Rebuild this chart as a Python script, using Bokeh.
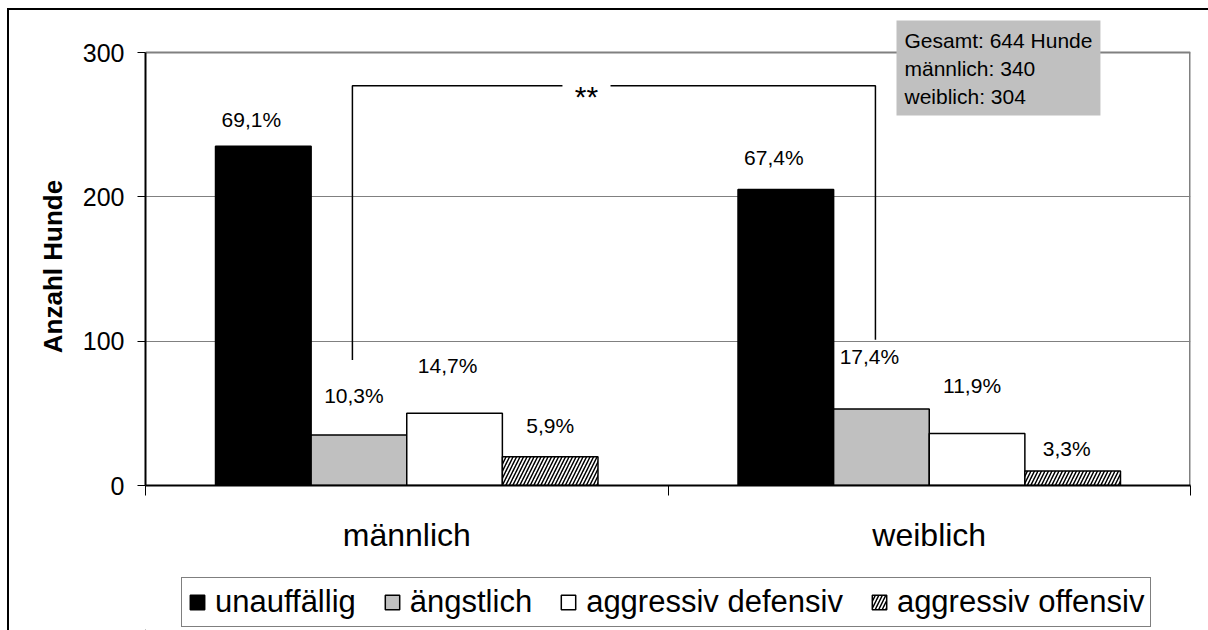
from bokeh.plotting import figure
from bokeh.models import (ColumnDataSource, FixedTicker, Legend, LegendItem,
                          Label, Range1d, Spacer)
from bokeh.layouts import column, row
from bokeh.core.properties import value
from bokeh.embed import file_html
from bokeh.resources import INLINE

# ---------------- data ----------------
genders = ["männlich", "weiblich"]
behaviours = ["unauffällig", "ängstlich", "aggressiv defensiv", "aggressiv offensiv"]
counts_maennlich = [235, 35, 50, 20]
counts_weiblich = [205, 53, 36, 10]
pct_maennlich = ["69,1%", "10,3%", "14,7%", "5,9%"]
pct_weiblich = ["67,4%", "17,4%", "11,9%", "3,3%"]
y_ticks = [0, 100, 200, 300]
y_axis_title = "Anzahl Hunde"
totals_text = "Gesamt: 644 Hunde\nmännlich: 340\nweiblich: 304"
significance = "**"

# ---------------- styles / positions ----------------
FONT = "Liberation Sans"
fills = ["black", "#C0C0C0", "white", "white"]
hatches = [None, None, None, "/"]
bar_w = 0.183
# per-label pixel offsets (männlich then weiblich), as placed in the original
lab_dx = [[-12, -5, -7, 0], [-12, -12, -5, -6]]
lab_dy = [[27, 39, 48, 31], [32, 53, 48, 23]]

# significance bracket (data units)
br_left_x, br_right_x = 0.396, 1.397
br_top = 277
br_left_bottom, br_right_bottom = 87, 101
br_gap_l, br_gap_r = 0.798, 0.89

X_END, Y_END = 2, 300            # extent of the plot area
PX_PER_UNIT = 433 / 300
W = 1199
H_MAIN, H_LEG = 560, 60
MB_LEFT, MB_RIGHT, MB_TOP, MB_BOTTOM = 136, 18, 1, 85
Y_VIEW = (H_MAIN - MB_TOP - MB_BOTTOM) / PX_PER_UNIT   # room above for info box
NBSP = "\u00a0"

p = figure(width=W, height=H_MAIN, x_range=Range1d(0, X_END),
           y_range=Range1d(0, Y_VIEW),
           output_backend="svg", toolbar_location=None,
           min_border_left=MB_LEFT, min_border_right=MB_RIGHT,
           min_border_top=MB_TOP, min_border_bottom=MB_BOTTOM)
p.background_fill_color = "white"
p.border_fill_color = "white"
p.outline_line_color = None

# y axis
p.yaxis.ticker = FixedTicker(ticks=y_ticks)
p.yaxis.bounds = (0, Y_END)
p.yaxis.axis_line_color = "black"
p.yaxis.axis_line_width = 2
p.yaxis.major_tick_out = 8
p.yaxis.major_tick_in = 0
p.yaxis.major_tick_line_color = "black"
p.yaxis.minor_tick_line_color = None
p.yaxis.major_label_text_font = FONT
p.yaxis.major_label_text_font_size = "25px"
p.yaxis.major_label_text_color = "black"
p.yaxis.major_label_standoff = 13
# trailing no-break spaces keep the title centred on the 0-300 axis
p.yaxis.axis_label = y_axis_title + NBSP * 5
p.yaxis.axis_label_text_font = FONT
p.yaxis.axis_label_text_font_size = "26px"
p.yaxis.axis_label_text_font_style = "bold"
p.yaxis.axis_label_text_color = "black"
p.yaxis.axis_label_standoff = 12

# x axis: category labels at group centres, boundary ticks as minor ticks
p.xaxis.ticker = FixedTicker(ticks=[0.5, 1.5], minor_ticks=[0, 1, 2])
p.xaxis.major_label_overrides = {0.5: genders[0], 1.5: genders[1]}
p.xaxis.axis_line_color = "black"
p.xaxis.axis_line_width = 2
p.xaxis.major_tick_line_color = None
p.xaxis.major_tick_out = 0
p.xaxis.major_tick_in = 0
p.xaxis.minor_tick_line_color = "black"
p.xaxis.minor_tick_out = 10
p.xaxis.minor_tick_in = 0
p.xaxis.major_label_text_font = FONT
p.xaxis.major_label_text_font_size = "32px"
p.xaxis.major_label_text_color = "black"
p.xaxis.major_label_standoff = 21

p.xgrid.grid_line_color = None
p.ygrid.ticker = FixedTicker(ticks=y_ticks)
p.ygrid.grid_line_color = "#808080"
p.ygrid.grid_line_width = 1

# right and top border of the plot area
p.segment(x0=[X_END], y0=[0], x1=[X_END], y1=[Y_END],
          line_color="#808080", line_width=3)
p.segment(x0=[0], y0=[Y_END], x1=[X_END], y1=[Y_END],
          line_color="#808080", line_width=2)

# legend strip below the chart (separate small figure, same glyph styles)
pl = figure(width=W, height=H_LEG, x_range=Range1d(0, 1), y_range=Range1d(0, 1),
            output_backend="svg", toolbar_location=None,
            x_axis_type=None, y_axis_type=None,
            min_border_left=0, min_border_right=0,
            min_border_top=0, min_border_bottom=0)
pl.outline_line_color = None
pl.xgrid.grid_line_color = None
pl.ygrid.grid_line_color = None

# bars
legend_items = []
for j, name in enumerate(behaviours):
    xs = [0.5 + (j - 1.5) * bar_w, 1.5 + (j - 1.5) * bar_w]
    tops = [counts_maennlich[j], counts_weiblich[j]]
    src = ColumnDataSource(dict(x=xs, top=tops))
    kw = {}
    if hatches[j]:
        kw = dict(hatch_pattern=hatches[j], hatch_color="black",
                  hatch_scale=7, hatch_weight=1.5)
    p.vbar(x="x", top="top", width=bar_w, bottom=0, source=src,
           fill_color=fills[j], line_color="black", line_width=1.5, **kw)
    # legend swatch renderer (kept outside the strip's visible range)
    rl = pl.vbar(x=[-10], top=[0], width=0.1, bottom=0,
                 fill_color=fills[j], line_color="black", line_width=1.5, **kw)
    legend_items.append(LegendItem(label=name, renderers=[rl]))
    for g, (pct, cnt) in enumerate(zip([pct_maennlich, pct_weiblich],
                                       [counts_maennlich, counts_weiblich])):
        p.text(x=[xs[g]], y=[cnt[j]], text=[pct[j]],
               x_offset=lab_dx[g][j], y_offset=-lab_dy[g][j],
               text_align="center", text_baseline="middle",
               text_font=value(FONT), text_font_size="21px", text_color="black")

# significance bracket
p.line(x=[br_left_x, br_left_x, br_gap_l], y=[br_left_bottom, br_top, br_top],
       line_color="black", line_width=1.5)
p.line(x=[br_gap_r, br_right_x, br_right_x], y=[br_top, br_top, br_right_bottom],
       line_color="black", line_width=1.5)
p.text(x=[(br_gap_l + br_gap_r) / 2], y=[br_top], text=[significance],
       text_align="center", text_baseline="alphabetic", y_offset=11,
       text_font=value(FONT), text_font_size="30px", text_color="black")

# totals box
p.add_layout(Label(x=751, y=465, x_units="screen", y_units="screen",
                   text=totals_text, anchor="top_left",
                   background_fill_color="#C0C0C0", padding=8,
                   text_font=FONT, text_font_size="21px",
                   text_line_height=1.22, text_color="black"))

legend = Legend(items=legend_items, orientation="horizontal",
                location=(36, 3),
                label_text_font=FONT, label_text_font_size="31px",
                label_text_color="black",
                glyph_width=18, glyph_height=18, label_standoff=9,
                spacing=27, padding=6, margin=0,
                border_line_color="black", border_line_width=1,
                background_fill_color="white", background_fill_alpha=1)
pl.add_layout(legend, "center")

inner = column(p, pl, spacing=0)
inner.styles = {"border-left": "2px solid #000", "border-top": "2px solid #000"}
page = column(Spacer(height=8), row(Spacer(width=7), inner, spacing=0), spacing=0)

open("out.html", "w").write(file_html(page, INLINE))
